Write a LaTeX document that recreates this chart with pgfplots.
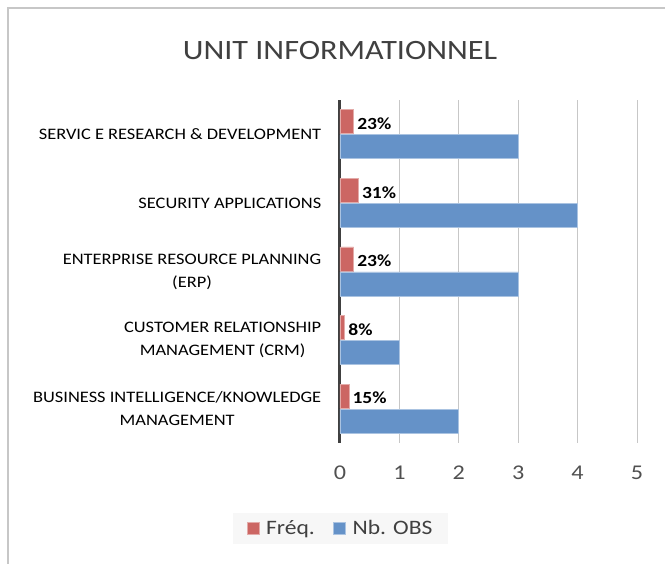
\documentclass[border=0pt]{standalone}
\usepackage{fontspec}
\setmainfont{Carlito}[FakeStretch=1.15]
\usepackage{pgfplots}
\pgfplotsset{compat=1.18}
\definecolor{barred}{RGB}{204,102,99}
\definecolor{barblue}{RGB}{101,146,200}
\definecolor{titlegrey}{RGB}{64,64,64}
\definecolor{tickgrey}{RGB}{80,80,80}

\begin{document}
\begin{tikzpicture}[x=1pt,y=1pt]
  \useasboundingbox (0,0) rectangle (665,564);
  % chart frame
  \draw[black!22, line width=2pt] (8,-5) -- (8,556) -- (670,556);
  \node[text=titlegrey, font=\fontsize{28}{32}\selectfont] at (340,513) {UNIT INFORMATIONNEL};
  \begin{axis}[
      at={(340pt,121pt)}, anchor=south west,
      width=297pt, height=343pt, scale only axis,
      xbar, bar width=24pt,
      xmin=0, xmax=5, ymin=-0.5, ymax=4.5,
      axis y line*=left, axis x line*=bottom,
      x axis line style={draw=none},
      y axis line style={draw=black!75, line width=3pt},
      tick style={draw=none},
      xmajorgrids, grid style={black!22, line width=0.8pt},
      xtick={0,1,2,3,4,5},
      /pgf/number format/assume math mode=true,
      xticklabel style={font=\fontsize{21}{25}\selectfont, text=tickgrey, yshift=-19pt},
      ytick={0,1,2,3,4},
      yticklabels={{BUSINESS INTELLIGENCE/KNOWLEDGE\\MANAGEMENT},
                   {CUSTOMER RELATIONSHIP\\MANAGEMENT (CRM)},
                   {ENTERPRISE RESOURCE PLANNING\\(ERP)},
                   {SECURITY APPLICATIONS},
                   {SERVIC E RESEARCH \& DEVELOPMENT}},
      yticklabel style={align=center, font=\fontsize{16}{23}\selectfont, text=black, xshift=-11pt},
      legend style={at={(0.0017,-0.249)}, anchor=center, legend columns=2,
                    draw=none, fill=black!3, font=\fontsize{20.5}{24}\selectfont, text=titlegrey,
                    inner xsep=14pt, inner ysep=6pt,
                    /tikz/every even column/.append style={column sep=16pt}},
      legend image code/.code={\fill[#1] (0pt,-6pt) rectangle (12pt,6pt); \path (17pt,0pt);},
    ]
    % Fréq.
    \addplot[fill=barred, draw=barred!55!white, line width=0.6pt, bar shift=12.5pt,
             nodes near coords, point meta=explicit symbolic,
             nodes near coords style={font=\bfseries\fontsize{17}{20}\selectfont, text=black, anchor=west, yshift=-2pt}]
      coordinates {
        (0.15,0) [15\%]
        (0.08,1) [8\%]
        (0.23,2) [23\%]
        (0.31,3) [31\%]
        (0.23,4) [23\%]
      };
    % Nb. OBS
    \addplot[fill=barblue, draw=barblue!55!white, line width=0.6pt, bar shift=-12.5pt]
      coordinates {
        (2,0)
        (1,1)
        (3,2)
        (4,3)
        (3,4)
      };
    \legend{Fréq., Nb. OBS}
  \end{axis}
\end{tikzpicture}
\end{document}
